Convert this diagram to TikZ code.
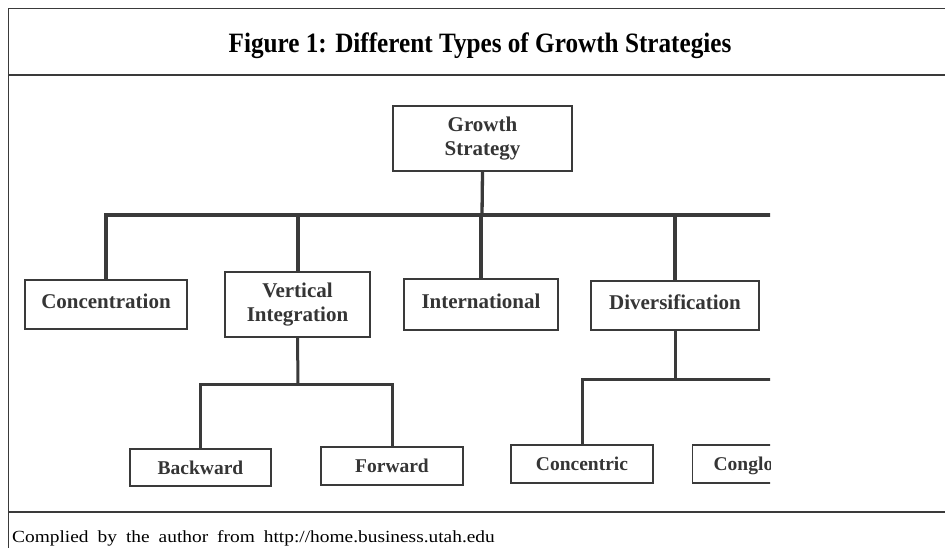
\documentclass[tikz,border=0pt]{standalone}
\usepackage{fontspec}
\setmainfont{Liberation Serif}
\newfontfamily\titlefont[FakeStretch=0.9]{Liberation Serif}
\newfontfamily\sourcefont[FakeStretch=1.14]{Liberation Serif}
\newcommand{\widespaces}{\spaceskip=9pt\relax}
\definecolor{linegray}{HTML}{3A3A3A}
\definecolor{textgray}{HTML}{353535}

\begin{document}
\begin{tikzpicture}[x=1pt,y=-1pt,
    box/.style={draw=linegray,line width=1.3pt,fill=white,text=textgray,align=center,inner sep=0pt,
      font=\fontsize{21}{24.5}\selectfont\bfseries},
    mid box/.style={box,text height=14pt,text depth=7pt},
    top box/.style={box,line width=2.4pt},
    low box/.style={box,text height=13pt,text depth=0pt,font=\fontsize{19.5}{22}\selectfont\bfseries},
    bus/.style={draw=linegray,line width=4pt},
    twig/.style={draw=linegray,line width=3pt},
    frame/.style={draw=linegray,line width=1.2pt}]
  \useasboundingbox (0,0) rectangle (945,548);
  % frame, title and source
  \draw[frame] (945,8.7) -| (8.7,548);
  \draw[frame] (8.7,75) -- (945,75);
  \draw[frame] (8.7,512) -- (945,512);
  \node[anchor=base,inner sep=0pt,font=\titlefont\fontsize{28}{30}\selectfont\bfseries] (title) at (480,53)
    {Figure 1: Different Types of Growth Strategies};
  \node[anchor=base west,inner sep=0pt,font=\sourcefont\fontsize{17}{20}\selectfont\widespaces] (source) at (12,542)
    {Complied by the author from http://home.business.utah.edu};
  \begin{scope}
    \clip (0,0) rectangle (770,548);
    \coordinate (hub) at (482,215);
    \coordinate (busend) at (800,215);
    \coordinate (vjoin) at (298,384);
    \coordinate (djoin) at (675,379);
    \node[top box,minimum width=179pt,minimum height=65pt] (growth) at (482.5,138.5) {Growth\\Strategy};
    \node[mid box,minimum width=162pt,minimum height=49pt] (conc) at (106,304.5) {Concentration};
    \node[box,minimum width=145pt,minimum height=65pt] (vert) at (297.5,304.5) {Vertical\\Integration};
    \node[mid box,minimum width=154pt,minimum height=51pt] (intl) at (481,304.5) {International};
    \node[mid box,minimum width=168pt,minimum height=49pt] (divers) at (675,305.5) {Diversification};
    \node[low box,minimum width=141pt,minimum height=37pt] (back) at (200.5,467.5) {Backward};
    \node[low box,minimum width=142pt,minimum height=38pt] (fwd) at (392,466) {Forward};
    \node[low box,minimum width=142pt,minimum height=38pt] (concen) at (582,464) {Concentric};
    \node[low box,minimum height=38pt,anchor=west,text width=120pt,align=left,inner xsep=21pt] (conglo) at (692,464) {Conglo};
    % first level
    \draw[twig,line width=3.3pt] (growth.south) -- (hub);
    \draw[bus] (conc.north) |- (busend);
    \draw[bus] (vert.north) -- (vert.north |- hub);
    \draw[bus] (intl.north) -- (intl.north |- hub);
    \draw[bus] (divers.north) -- (divers.north |- hub);
    % second level
    \draw[twig] (vert.south) -- (vjoin);
    \draw[twig] (back.north) |- (vjoin) -| (fwd.north);
    \draw[twig] (divers.south) -- (djoin);
    \draw[twig] (concen.north) |- (djoin) -| (conglo.north);
  \end{scope}
\end{tikzpicture}
\end{document}
